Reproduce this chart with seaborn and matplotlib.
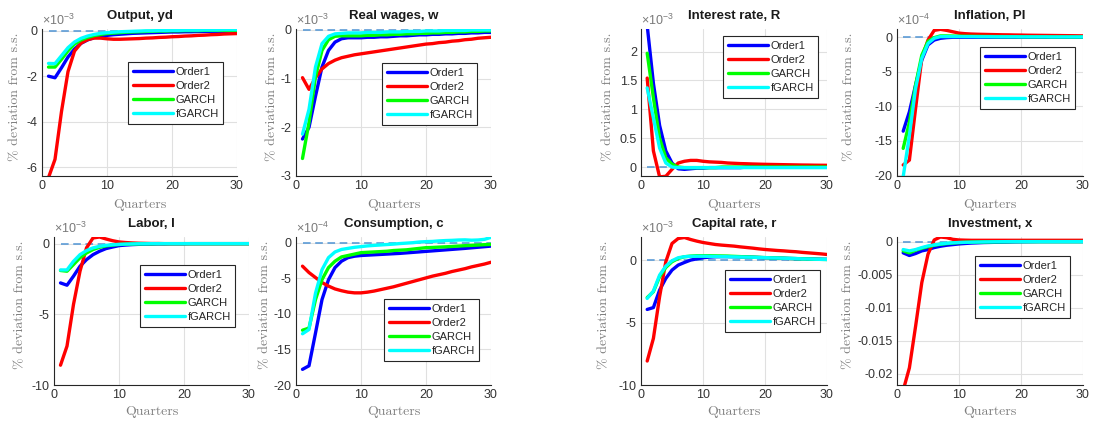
import matplotlib
matplotlib.use("Agg")
import matplotlib.pyplot as plt
import numpy as np
import pandas as pd
import seaborn as sns

# ---------------------------------------------------------------- data
quarters = list(range(1, 31))
series_names = ["Order1", "Order2", "GARCH", "fGARCH"]
series_colors = ["#0000ff", "#ff0000", "#00ff00", "#00ffff"]

# Output, yd  (x 1e-3)
yd_order1 = [-2.00, -2.07, -1.63, -1.16, -0.81, -0.56, -0.41, -0.31, -0.25, -0.21,
             -0.18, -0.16, -0.14, -0.12, -0.11, -0.10, -0.09, -0.08, -0.07, -0.06,
             -0.06, -0.05, -0.05, -0.04, -0.04, -0.03, -0.03, -0.03, -0.02, -0.02]
yd_order2 = [-6.45, -5.65, -3.55, -1.80, -0.90, -0.55, -0.40, -0.33, -0.33, -0.36,
             -0.38, -0.38, -0.37, -0.36, -0.35, -0.33, -0.32, -0.30, -0.29, -0.27,
             -0.26, -0.24, -0.23, -0.21, -0.20, -0.18, -0.17, -0.15, -0.14, -0.13]
yd_garch = [-1.60, -1.60, -1.26, -0.89, -0.59, -0.41, -0.30, -0.22, -0.17, -0.13,
            -0.11, -0.09, -0.07, -0.06, -0.05, -0.04, -0.03, -0.02, -0.02, -0.01,
            -0.01, 0.00, 0.00, 0.00, 0.01, 0.01, 0.01, 0.01, 0.01, 0.01]
yd_fgarch = [-1.44, -1.45, -1.10, -0.75, -0.50, -0.34, -0.24, -0.17, -0.12, -0.09,
             -0.07, -0.05, -0.04, -0.03, -0.02, -0.01, -0.01, 0.00, 0.00, 0.01,
             0.01, 0.02, 0.02, 0.02, 0.03, 0.03, 0.03, 0.04, 0.04, 0.04]

# Real wages, w  (x 1e-3)
w_order1 = [-2.24, -2.00, -1.36, -0.76, -0.42, -0.25, -0.18, -0.16, -0.16, -0.16,
            -0.15, -0.15, -0.14, -0.14, -0.13, -0.12, -0.12, -0.11, -0.10, -0.10,
            -0.09, -0.09, -0.08, -0.08, -0.07, -0.07, -0.06, -0.06, -0.05, -0.05]
w_order2 = [-0.98, -1.22, -0.98, -0.80, -0.69, -0.62, -0.57, -0.54, -0.51, -0.49,
            -0.47, -0.45, -0.43, -0.41, -0.39, -0.37, -0.35, -0.33, -0.31, -0.29,
            -0.28, -0.26, -0.25, -0.23, -0.22, -0.20, -0.19, -0.17, -0.16, -0.15]
w_garch = [-2.64, -1.90, -0.96, -0.42, -0.20, -0.13, -0.12, -0.12, -0.12, -0.12,
           -0.11, -0.11, -0.10, -0.10, -0.09, -0.09, -0.08, -0.08, -0.07, -0.07,
           -0.06, -0.06, -0.05, -0.05, -0.04, -0.04, -0.03, -0.03, -0.02, -0.02]
w_fgarch = [-2.14, -1.63, -0.76, -0.28, -0.13, -0.08, -0.07, -0.06, -0.06, -0.06,
            -0.05, -0.05, -0.05, -0.04, -0.04, -0.04, -0.03, -0.03, -0.03, -0.02,
            -0.02, -0.02, -0.01, -0.01, -0.01, -0.01, 0.00, 0.00, 0.00, 0.00]

# Interest rate, R  (x 1e-3)
R_order1 = [2.45, 1.45, 0.72, 0.28, 0.07, -0.03, -0.04, -0.03, -0.02, -0.02,
            -0.01, -0.01, -0.01, -0.01, -0.01, -0.01, 0.00, 0.00, 0.00, 0.00,
            0.00, 0.00, 0.00, 0.00, 0.00, 0.00, 0.00, 0.00, 0.00, 0.00]
R_order2 = [1.54, 0.28, -0.17, -0.16, -0.04, 0.07, 0.10, 0.115, 0.115, 0.10,
            0.09, 0.085, 0.08, 0.07, 0.065, 0.06, 0.057, 0.053, 0.05, 0.047,
            0.045, 0.043, 0.041, 0.039, 0.037, 0.035, 0.034, 0.032, 0.031, 0.030]
R_garch = [1.97, 1.20, 0.50, 0.16, 0.05, 0.00, -0.01, -0.01, -0.01, -0.01,
           -0.01, -0.01, 0.00, 0.00, 0.00, 0.00, 0.00, 0.00, 0.00, 0.00,
           0.00, 0.00, 0.00, 0.00, 0.00, 0.00, 0.00, 0.00, 0.00, 0.00]
R_fgarch = [1.37, 0.85, 0.33, 0.07, 0.00, -0.01, -0.01, -0.01, -0.01, -0.01,
            -0.01, -0.01, -0.01, -0.01, -0.01, -0.01, -0.01, -0.01, -0.01, -0.01,
            -0.01, -0.01, -0.01, -0.01, -0.01, -0.01, -0.01, -0.01, -0.01, -0.01]

# Inflation, PI  (x 1e-4)
PI_order1 = [-13.6, -10.8, -6.9, -3.3, -1.1, -0.4, -0.15, -0.05, 0.0, 0.0,
             0.0, 0.0, 0.0, 0.0, 0.0, 0.0, 0.0, 0.0, 0.0, 0.0,
             0.0, 0.0, 0.0, 0.0, 0.0, 0.0, 0.0, 0.0, 0.0, 0.0]
PI_order2 = [-18.5, -17.8, -10.3, -3.05, -0.4, 1.0, 1.15, 1.0, 0.8, 0.6,
             0.52, 0.47, 0.44, 0.42, 0.40, 0.38, 0.36, 0.35, 0.33, 0.32,
             0.30, 0.29, 0.28, 0.27, 0.26, 0.25, 0.24, 0.23, 0.22, 0.21]
PI_garch = [-16.1, -12.3, -6.9, -2.6, -0.6, -0.05, 0.2, 0.2, 0.18, 0.16,
            0.15, 0.14, 0.13, 0.12, 0.11, 0.10, 0.10, 0.09, 0.09, 0.08,
            0.08, 0.07, 0.07, 0.07, 0.06, 0.06, 0.06, 0.05, 0.05, 0.05]
PI_fgarch = [-20.2, -14.2, -7.4, -3.05, -0.9, -0.15, 0.1, 0.1, 0.1, 0.1,
             0.09, 0.09, 0.08, 0.08, 0.08, 0.07, 0.07, 0.07, 0.07, 0.06,
             0.06, 0.06, 0.06, 0.06, 0.05, 0.05, 0.05, 0.05, 0.05, 0.05]

# Labor, l  (x 1e-3)
l_order1 = [-2.78, -2.94, -2.30, -1.60, -1.13, -0.78, -0.54, -0.35, -0.24, -0.14,
            -0.10, -0.07, -0.05, -0.04, -0.03, -0.02, -0.02, -0.01, -0.01, -0.01,
            0.00, 0.00, 0.00, 0.00, 0.00, 0.00, 0.00, 0.00, 0.00, 0.00]
l_order2 = [-8.60, -7.25, -4.30, -1.95, -0.30, 0.40, 0.47, 0.33, 0.21, 0.12,
            0.08, 0.05, 0.03, 0.02, 0.01, 0.01, 0.00, 0.00, 0.00, 0.00,
            0.00, 0.00, 0.00, 0.00, 0.00, 0.00, 0.00, 0.00, 0.00, 0.00]
l_garch = [-1.90, -1.95, -1.48, -1.00, -0.66, -0.42, -0.26, -0.16, -0.10, -0.06,
           -0.04, -0.03, -0.02, -0.01, -0.01, 0.00, 0.00, 0.00, 0.00, 0.00,
           0.00, 0.00, 0.00, 0.00, 0.00, 0.00, 0.00, 0.00, 0.00, 0.00]
l_fgarch = [-1.86, -1.86, -1.25, -0.78, -0.49, -0.30, -0.19, -0.12, -0.08, -0.05,
            -0.03, -0.02, -0.01, -0.01, 0.00, 0.00, 0.00, 0.00, 0.00, 0.00,
            0.00, 0.00, 0.00, 0.00, 0.00, 0.00, 0.00, 0.00, 0.00, 0.00]

# Consumption, c  (x 1e-4)
c_order1 = [-17.8, -17.3, -12.7, -8.0, -5.2, -3.5, -2.6, -2.1, -1.9, -1.8,
            -1.75, -1.70, -1.65, -1.60, -1.55, -1.50, -1.43, -1.36, -1.29, -1.22,
            -1.15, -1.08, -1.01, -0.94, -0.87, -0.80, -0.72, -0.64, -0.56, -0.48]
c_order2 = [-3.3, -4.2, -4.9, -5.6, -6.1, -6.5, -6.75, -6.95, -7.05, -7.05,
            -6.95, -6.80, -6.60, -6.40, -6.20, -5.95, -5.70, -5.45, -5.20, -4.95,
            -4.70, -4.50, -4.30, -4.05, -3.85, -3.65, -3.40, -3.20, -3.00, -2.75]
c_garch = [-12.3, -12.0, -8.0, -5.2, -3.5, -2.6, -2.0, -1.8, -1.6, -1.4,
           -1.35, -1.30, -1.25, -1.20, -1.10, -1.05, -1.00, -0.90, -0.80, -0.70,
           -0.67, -0.62, -0.58, -0.53, -0.47, -0.42, -0.38, -0.33, -0.28, -0.24]
c_fgarch = [-12.8, -12.2, -7.1, -3.8, -2.1, -1.3, -0.95, -0.80, -0.65, -0.55,
            -0.45, -0.38, -0.32, -0.26, -0.20, -0.12, -0.06, 0.00, 0.10, 0.15,
            0.18, 0.25, 0.30, 0.33, 0.38, 0.40, 0.35, 0.38, 0.47, 0.75]

# Capital rate, r  (x 1e-3)
r_order1 = [-3.95, -3.80, -2.40, -1.47, -0.80, -0.40, -0.19, 0.00, 0.10, 0.19,
            0.24, 0.27, 0.28, 0.28, 0.27, 0.26, 0.25, 0.23, 0.21, 0.19,
            0.18, 0.16, 0.15, 0.13, 0.12, 0.11, 0.09, 0.08, 0.07, 0.06]
r_order2 = [-8.08, -6.27, -2.93, -0.13, 1.33, 1.73, 1.81, 1.65, 1.52, 1.41,
            1.33, 1.25, 1.20, 1.16, 1.12, 1.06, 1.01, 0.96, 0.90, 0.85,
            0.81, 0.77, 0.74, 0.70, 0.67, 0.62, 0.58, 0.54, 0.50, 0.45]
r_garch = [-3.00, -2.53, -1.33, -0.59, -0.13, 0.13, 0.27, 0.32, 0.35, 0.35,
           0.35, 0.34, 0.33, 0.32, 0.30, 0.28, 0.26, 0.24, 0.22, 0.20,
           0.18, 0.17, 0.15, 0.13, 0.12, 0.10, 0.09, 0.07, 0.06, 0.05]
r_fgarch = [-3.07, -2.48, -1.20, -0.48, -0.05, 0.19, 0.27, 0.30, 0.31, 0.31,
            0.30, 0.29, 0.28, 0.27, 0.26, 0.25, 0.24, 0.23, 0.21, 0.20,
            0.18, 0.17, 0.15, 0.14, 0.12, 0.10, 0.09, 0.07, 0.06, 0.05]

# Investment, x
x_order1 = [-0.0017, -0.0021, -0.0018, -0.0014, -0.0012, -0.0009, -0.0007, -0.00055, -0.00045, -0.00035,
            -0.00028, -0.00022, -0.00018, -0.00014, -0.00012, -0.00010, -0.00008, -0.00006, -0.00004, -0.00003,
            -0.00002, -0.00001, 0.0, 0.0, 0.0, 0.0, 0.0, 0.0, 0.0, 0.0]
x_order2 = [-0.0225, -0.0191, -0.0128, -0.0062, -0.0019, 0.00025, 0.0007, 0.0006, 0.00035, 0.00025,
            0.00022, 0.0002, 0.0002, 0.0002, 0.0002, 0.0002, 0.0002, 0.0002, 0.0002, 0.0002,
            0.0002, 0.0002, 0.0002, 0.0002, 0.0002, 0.0002, 0.0002, 0.0002, 0.0002, 0.0002]
x_garch = [-0.0014, -0.0017, -0.0013, -0.0010, -0.00075, -0.00055, -0.0004, -0.0003, -0.0002, -0.00015,
           -0.0001, -0.00008, -0.00006, -0.00005, -0.00004, -0.00003, -0.00002, -0.00001, 0.0, 0.0,
           0.0, 0.0, 0.0, 0.0, 0.0, 0.0, 0.0, 0.0, 0.0, 0.0]
x_fgarch = [-0.0012, -0.0014, -0.0012, -0.0009, -0.00065, -0.0005, -0.00035, -0.00025, -0.00018, -0.00012,
            -0.0001, -0.00008, -0.00006, -0.00004, -0.00003, -0.00002, -0.00001, 0.0, 0.0, 0.0,
            0.0, 0.0, 0.0, 0.0, 0.0, 0.0, 0.0, 0.0, 0.0, 0.0]

panel_titles = ["Output, yd", "Real wages, w", "Interest rate, R", "Inflation, PI",
                "Labor, l", "Consumption, c", "Capital rate, r", "Investment, x"]
panel_series = [
    [yd_order1, yd_order2, yd_garch, yd_fgarch],
    [w_order1, w_order2, w_garch, w_fgarch],
    [R_order1, R_order2, R_garch, R_fgarch],
    [PI_order1, PI_order2, PI_garch, PI_fgarch],
    [l_order1, l_order2, l_garch, l_fgarch],
    [c_order1, c_order2, c_garch, c_fgarch],
    [r_order1, r_order2, r_garch, r_fgarch],
    [x_order1, x_order2, x_garch, x_fgarch],
]
panel_exponents = [-3, -3, -3, -4, -3, -4, -3, None]
panel_yticks = [
    [0, -2, -4, -6],
    [0, -1, -2, -3],
    [0, 0.5, 1, 1.5, 2],
    [0, -5, -10, -15, -20],
    [0, -5, -10],
    [0, -5, -10, -15, -20],
    [0, -5, -10],
    [0, -0.005, -0.01, -0.015, -0.02],
]
panel_ylims = [(-6.38, 0.07), (-3.0, 0.02), (-0.155, 2.39), (-20.1, 1.2),
               (-10.0, 0.47), (-20.0, 0.8), (-10.0, 1.85), (-0.0217, 0.0007)]

# ---------------------------------------------------------------- layout (pixels)
W, H = 1094, 425
axes_px = [(42, 29, 237, 176), (296, 29, 491, 176), (641, 29, 827, 176), (897, 29, 1083, 176),
           (54, 237, 249, 385), (296, 237, 491, 385), (641, 237, 827, 385), (897, 237, 1083, 385)]
legend_px = [(128, 62), (382, 63), (723, 36), (980, 47),
             (140, 265), (384, 299), (725, 270), (975, 256)]
ylabel_px = [15, 272, 608, 849, 20, 265, 604, 848]
xlabel_py = [205, 205, 205, 205, 412, 412, 412, 412]

sns.set_theme(style="white")
plt.rcParams["font.family"] = ["Liberation Sans", "DejaVu Sans"]
plt.rcParams["axes.unicode_minus"] = False
plt.rcParams["mathtext.fontset"] = "custom"
plt.rcParams["mathtext.rm"] = "Liberation Sans"
plt.rcParams["mathtext.it"] = "Liberation Sans:italic"

TICK = "#333333"
LABEL = "#808080"
serif = ["cmr10", "DejaVu Serif"]

fig = plt.figure(figsize=(W / 100, H / 100), dpi=100)

for i in range(8):
    x0, y0, x1, y1 = axes_px[i]
    ax = fig.add_axes([x0 / W, 1 - y1 / H, (x1 - x0) / W, (y1 - y0) / H])

    frame = pd.DataFrame({
        "Quarter": quarters * 4,
        "value": sum(panel_series[i], []),
        "series": [s for s in series_names for _ in quarters],
    })

    # steady-state reference
    ax.plot([quarters[0], quarters[-1]], [0, 0], ls=(0, (5, 3)), color="#4f94d4",
            lw=1.1, zorder=1)
    sns.lineplot(data=frame, x="Quarter", y="value", hue="series",
                 hue_order=series_names, palette=series_colors,
                 linewidth=2.4, legend=False, ax=ax, zorder=2)

    ax.set_xlim(0, 30)
    ax.set_xticks([0, 10, 20, 30])
    ax.set_ylim(*panel_ylims[i])
    ax.set_yticks(panel_yticks[i])
    ax.set_yticklabels([f"{v:g}" for v in panel_yticks[i]])
    ax.grid(True, color="#e0e0e0", lw=0.8)
    ax.set_axisbelow(True)
    for side in ("top", "right"):
        ax.spines[side].set_visible(False)
    for side in ("left", "bottom"):
        ax.spines[side].set_color("#262626")
        ax.spines[side].set_linewidth(0.8)
    ax.tick_params(axis="both", direction="in", length=2.5, width=0.6,
                   colors="#262626", labelcolor=TICK, labelsize=9, pad=3)

    ax.set_title(panel_titles[i], fontsize=9.5, fontweight="bold", pad=7,
                 color="#1a1a1a")
    if panel_exponents[i] is not None:
        ax.text(0.0, 1.01, r"$\times10^{%d}$" % panel_exponents[i],
                transform=ax.transAxes, ha="left", va="bottom",
                fontsize=9, color="#7a7a7a")

    ax.set_xlabel("Quarters", family=serif, fontsize=10, color=LABEL)
    ax.set_ylabel("% deviation from s.s.", family=serif, fontsize=10, color=LABEL)
    ax.xaxis.set_label_coords(0.5, (y1 - xlabel_py[i]) / (y1 - y0))
    ax.xaxis.label.set_va("center")
    ax.yaxis.set_label_coords((ylabel_px[i] - x0) / (x1 - x0), 0.54)
    ax.yaxis.label.set_va("center")

    lx, ly = legend_px[i]
    handles = ax.get_lines()[1:5]
    leg = ax.legend(handles, series_names, loc="upper left",
                    bbox_to_anchor=(lx / W, 1 - ly / H), bbox_transform=fig.transFigure,
                    fontsize=8, frameon=True, fancybox=False, framealpha=1,
                    edgecolor="#262626", handlelength=3.6, handletextpad=0.25,
                    labelspacing=0.38, borderpad=0.42, borderaxespad=0)
    leg.get_frame().set_linewidth(0.8)

fig.savefig("out.png", dpi=100)
